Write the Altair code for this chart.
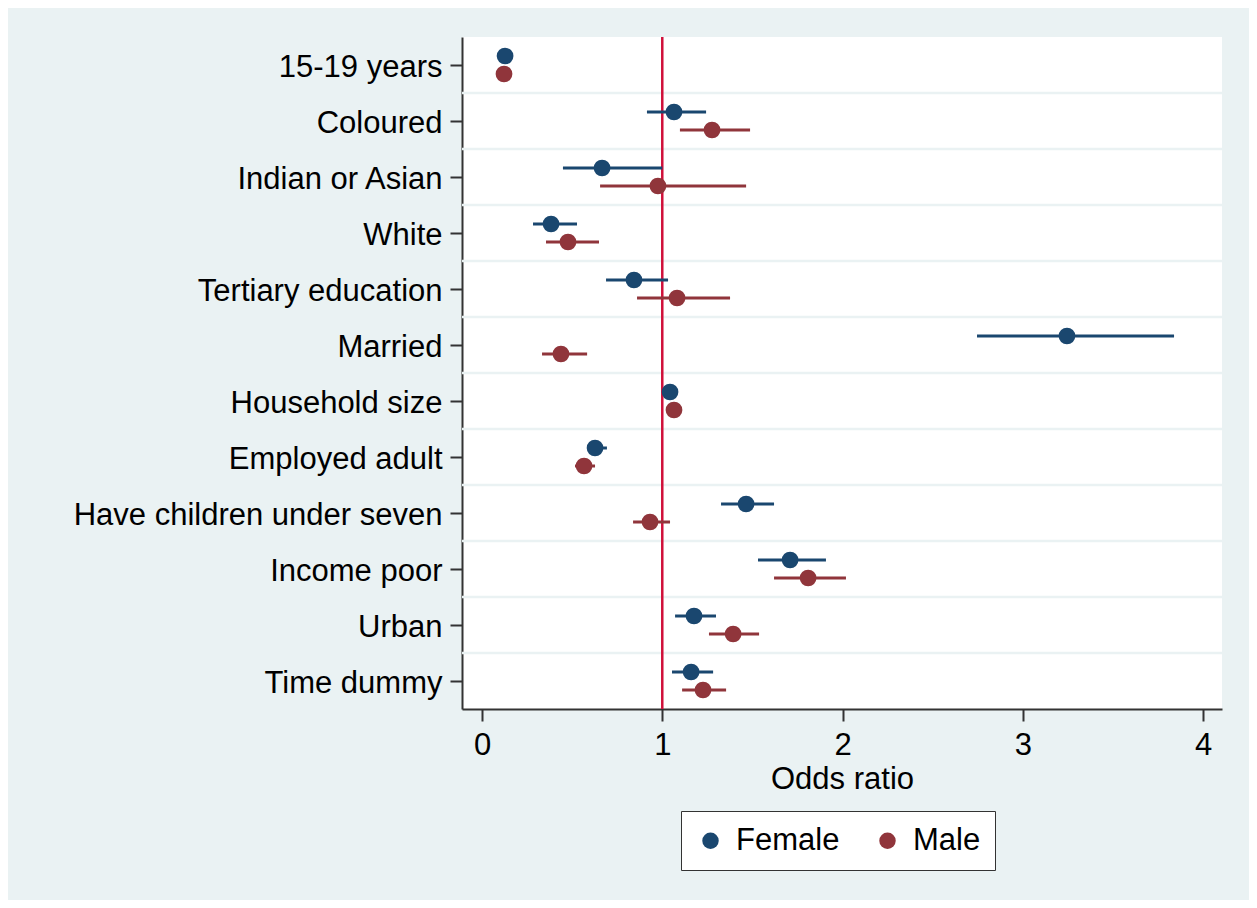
import altair as alt
import pandas as pd

categories = ["15-19 years", "Coloured", "Indian or Asian", "White", "Tertiary education",
              "Married", "Household size", "Employed adult", "Have children under seven",
              "Income poor", "Urban", "Time dummy"]
female_or = [0.128, 1.065, 0.666, 0.383, 0.843, 3.245, 1.043, 0.627, 1.465, 1.709, 1.176, 1.160]
female_lo = [0.110, 0.915, 0.449, 0.283, 0.688, 2.746, 1.020, 0.588, 1.326, 1.531, 1.071, 1.054]
female_hi = [0.145, 1.243, 1.000, 0.527, 1.032, 3.839, 1.070, 0.693, 1.620, 1.908, 1.298, 1.282]
male_or = [0.122, 1.276, 0.976, 0.477, 1.082, 0.438, 1.065, 0.566, 0.932, 1.809, 1.393, 1.226]
male_lo = [0.105, 1.098, 0.655, 0.355, 0.860, 0.333, 1.040, 0.516, 0.838, 1.620, 1.259, 1.110]
male_hi = [0.140, 1.487, 1.465, 0.649, 1.376, 0.583, 1.090, 0.627, 1.043, 2.019, 1.537, 1.354]
groups = ["Female", "Male"]
ref_value = [1.0]
x_ticks = [0, 1, 2, 3, 4]

rows = []
for i, c in enumerate(categories):
    rows.append({"cat": c, "sex": "Female", "or": female_or[i], "lo": female_lo[i], "hi": female_hi[i]})
    rows.append({"cat": c, "sex": "Male", "or": male_or[i], "lo": male_lo[i], "hi": male_hi[i]})
df = pd.DataFrame(rows)
grid_df = pd.DataFrame({"cat": categories[1:]})
ref_df = pd.DataFrame({"x": ref_value})

FONT = "Liberation Sans"
FS = 31
colors = ["#1A476F", "#90353B"]

yscale = alt.Scale(domain=categories, paddingInner=0, paddingOuter=0)
xscale = alt.Scale(domain=[-0.111, 4.105], nice=False, zero=False)
xaxis = alt.Axis(title="Odds ratio", values=x_ticks, format="d", grid=False,
                 labelFontSize=FS, titleFontSize=FS, labelFont=FONT, titleFont=FONT,
                 titleFontWeight="normal", labelColor="#000000", titleColor="#000000",
                 domainColor="#333333", domainWidth=2, tickColor="#333333",
                 tickWidth=2, tickSize=12, labelPadding=9, titlePadding=4)
yaxis = alt.Axis(title=None, grid=False, labelFontSize=FS, labelFont=FONT,
                 labelColor="#000000", domainColor="#333333", domainWidth=2,
                 tickColor="#333333", tickWidth=2, tickSize=12, labelPadding=8,
                 labelOffset=3, labelLimit=600)
legend = alt.Legend(title=None, orient="none", legendX=219, legendY=774,
                    direction="horizontal", symbolType="circle",
                    symbolSize=270, labelFontSize=FS, labelFont=FONT,
                    labelColor="#000000", padding=14, labelOffset=10,
                    columnPadding=32, strokeColor="#333333",
                    fillColor="white", symbolStrokeWidth=0, symbolOpacity=1,
                    labelLimit=300)
color = alt.Color("sex:N", scale=alt.Scale(domain=groups, range=colors), legend=legend)
yoff = alt.YOffset("sex:N", scale=alt.Scale(type="point", domain=groups, range=[19, 37], padding=0))

grid = alt.Chart(grid_df).mark_rule(color="#EAF2F3", strokeWidth=2.5).encode(
    y=alt.Y("cat:N", scale=yscale, bandPosition=0, axis=yaxis),
)

refline = alt.Chart(ref_df).mark_rule(color="#D0103A", strokeWidth=2.5).encode(
    x=alt.X("x:Q", scale=xscale, axis=xaxis),
)

bars = alt.Chart(df).mark_rule(strokeWidth=3).encode(
    x=alt.X("lo:Q", scale=xscale, axis=xaxis),
    x2="hi:Q",
    y=alt.Y("cat:N", scale=yscale, axis=yaxis),
    yOffset=yoff,
    color=color,
)

points = alt.Chart(df).mark_circle(size=280, opacity=1).encode(
    x=alt.X("or:Q", scale=xscale, axis=xaxis),
    y=alt.Y("cat:N", scale=yscale, axis=yaxis),
    yOffset=yoff,
    color=color,
)

chart = alt.layer(grid, refline, bars, points).properties(
    width=760, height=672,
    background="#EAF2F3",
    padding={"left": 454, "top": 29, "right": 27, "bottom": 191},
    autosize=alt.AutoSizeParams(type="none"),
).configure_view(strokeWidth=0, fill="white")

chart.save("out.html", embed_options={"renderer": "svg", "actions": False})
